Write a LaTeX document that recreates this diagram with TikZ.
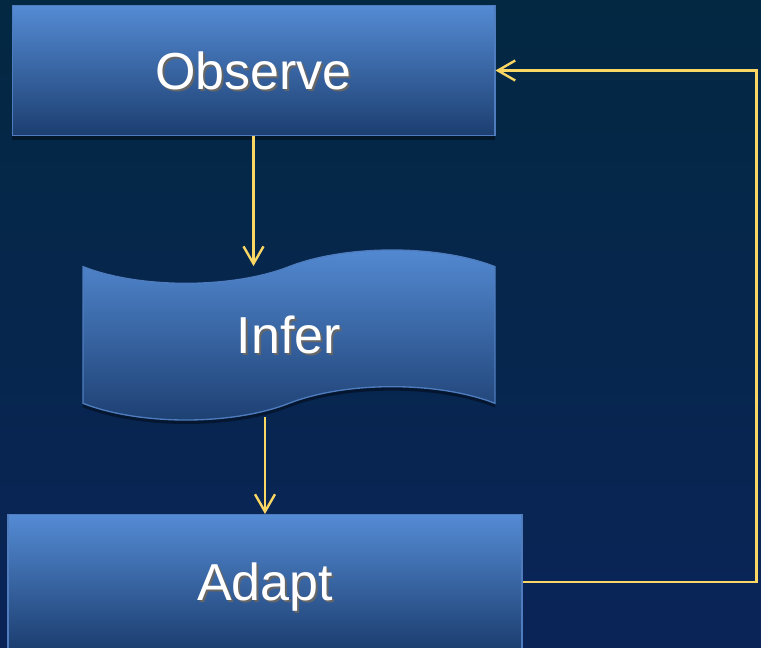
\documentclass[tikz,border=0pt]{standalone}
\usepackage{fontspec}
\setmainfont{Liberation Sans}
\usetikzlibrary{arrows.meta, positioning, shapes.symbols, shadows}
\definecolor{boxtop}{RGB}{84, 139, 212}
\definecolor{boxbot}{RGB}{28, 62, 112}
\definecolor{boxline}{RGB}{78, 124, 190}
\definecolor{linkyel}{RGB}{250, 214, 100}
\definecolor{bgtop}{RGB}{3, 40, 66}
\definecolor{bgmid}{RGB}{5, 14, 34}
\definecolor{bgbot}{RGB}{10, 36, 88}
\newcommand{\shtext}[1]{\makebox[0pt][l]{\kern1.5pt\raisebox{-1.5pt}{\color{black!60}#1}}#1}

\begin{document}
\begin{tikzpicture}[
    x=0.75pt, y=-0.75pt,
    box/.style={draw=boxline, line width=1pt, top color=boxtop, bottom color=boxbot,
        text=white, inner sep=0pt, text depth=0pt, font=\fontsize{39}{47}\selectfont,
        drop shadow={shadow xshift=0pt, shadow yshift=-3pt, fill=black, opacity=0.4}},
    stepbox/.style={box, rectangle},
    wavebox/.style={box, tape, tape bend top=in and out, tape bend bottom=in and out,
        tape bend height=25pt},
    arr/.style={-{Straight Barb[length=13pt, width=15pt]}, draw=linkyel, line width=1.8pt}
]
    % background
    \useasboundingbox (0,0) rectangle (761,647);
    \shade[top color=bgtop, middle color=bgmid, bottom color=bgbot] (0,0) rectangle (761,647);

    % the three steps
    \node[stepbox, minimum width=362pt, minimum height=97.5pt] (observe) at (253.5,70.5) {\shtext{Observe}};
    \node[wavebox, minimum width=309pt, minimum height=127.5pt] (infer) at (289,335) {\shtext{Infer}};
    \node[stepbox, minimum width=385.5pt, minimum height=101pt] (adapt) at (265,582) {\shtext{Adapt}};

    % links
    \draw[arr] (observe.south) -- (observe.south |- infer.north);
    \draw[arr] ([yshift=-10pt]infer.south -| adapt.north) -- (adapt.north);
    \draw[arr] (adapt.east) -- ++(234,0) |- (observe.east);
\end{tikzpicture}
\end{document}
